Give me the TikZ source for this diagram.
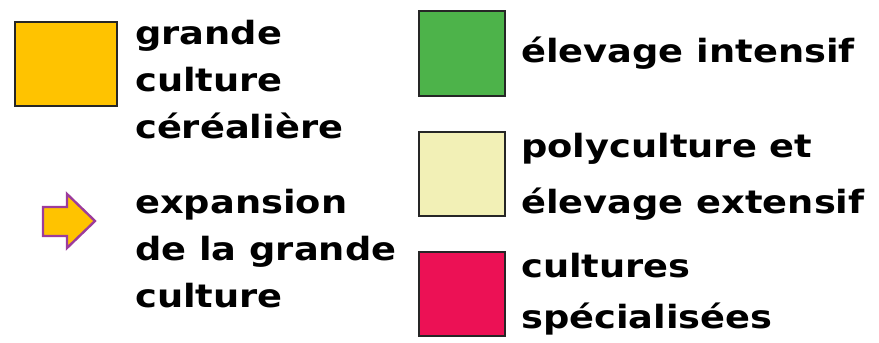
\documentclass[tikz,border=0pt]{standalone}
\usepackage{fontspec}
\setmainfont{DejaVu Sans}[FakeStretch=1.15]
\definecolor{cereale}{HTML}{FFC300}
\definecolor{intensif}{HTML}{4DB34A}
\definecolor{extensif}{HTML}{F2F0B6}
\definecolor{specialise}{HTML}{EC1155}
\definecolor{expansion}{HTML}{9C3C9C}
\tikzset{
  legbox/.style={draw=black!85, line width=2pt, anchor=north west, inner sep=0pt},
  legtext/.style={anchor=base west, align=left, inner sep=0pt,
    font=\bfseries\fontsize{32}{47}\selectfont}
}
\begin{document}
\begin{tikzpicture}[x=1pt,y=-1pt]
\useasboundingbox (0,0) rectangle (879,343);
% cases de couleur
\node[legbox, fill=cereale, minimum width=102pt, minimum height=84pt] (cereale) at (14,21) {};
\node[legbox, fill=intensif, minimum width=86pt, minimum height=85pt] (intensif) at (418,10) {};
\node[legbox, fill=extensif, minimum width=86pt, minimum height=84pt] (extensif) at (418,131) {};
\node[legbox, fill=specialise, minimum width=86pt, minimum height=84pt] (specialise) at (418,251) {};
% fleche
\draw[draw=expansion, fill=cereale, line width=2.4pt, line join=miter]
  (43,207)--(67,207)--(67,194)--(95,221)--(67,248)--(67,236)--(43,236)--cycle;
% textes (ancre = ligne de base de la derniere ligne)
\node[legtext] (t-cereale) at (135,138) {grande\\culture\\céréalière};
\node[legtext] (t-expansion) at (135,307) {expansion\\de la grande\\culture};
\node[legtext] (t-intensif) at (521,62) {élevage intensif};
\node[legtext] (t-extensif) at (521,213) {polyculture et\\[9pt]élevage extensif};
\node[legtext] (t-specialise) at (521,328) {cultures\\[4pt]spécialisées};
\end{tikzpicture}
\end{document}
